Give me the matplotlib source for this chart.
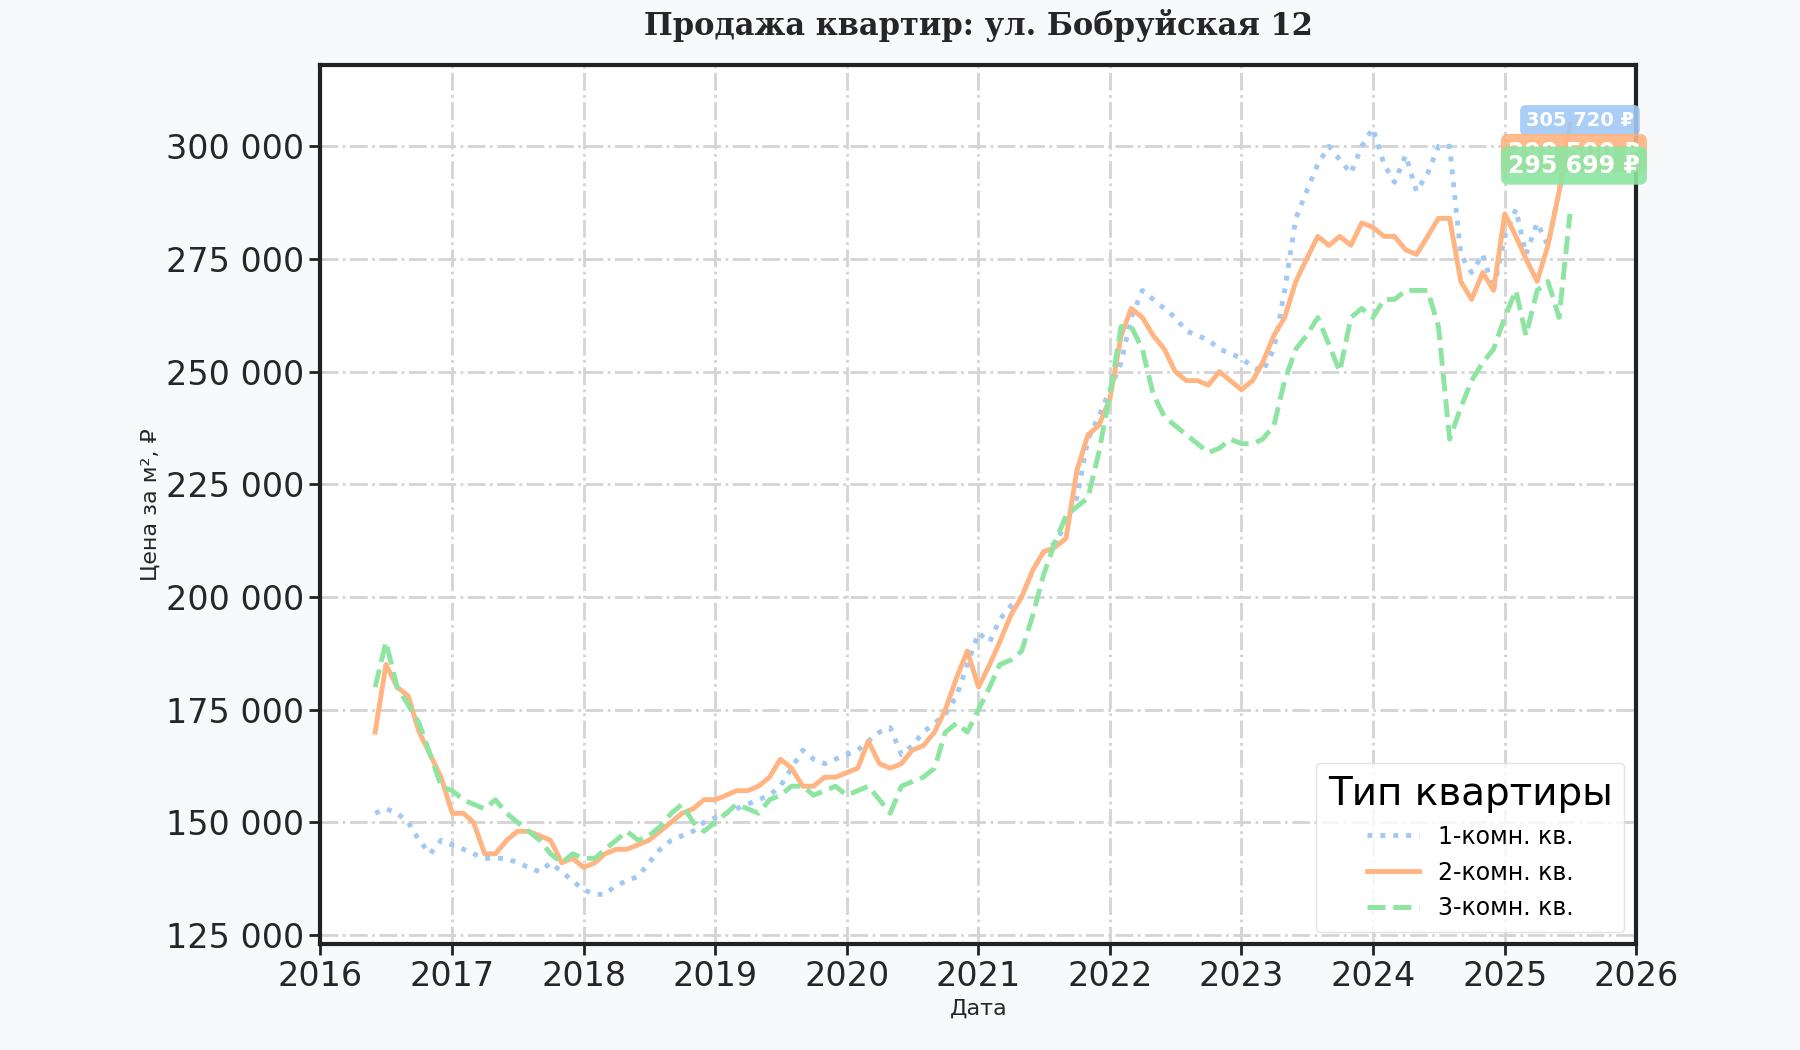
import matplotlib
matplotlib.use('Agg')
import matplotlib.pyplot as plt
import matplotlib.dates as mdates
import matplotlib.ticker as mticker
import pandas as pd

# Monthly values, thousands of rubles per m², Jun 2016 .. Jul 2025
one_room = [152, 153, 152, 150, 146, 143, 146,
            145, 144, 143, 142, 142, 142, 141, 140, 139, 141, 139, 137,
            135, 134, 134, 136, 137, 138, 141, 144, 146, 147, 148, 150,
            151, 152, 153, 154, 155, 156, 158, 162, 166, 164, 163, 164,
            165, 166, 168, 170, 171, 165, 167, 170, 172, 174, 178, 185,
            192, 190, 195, 198, 200, 206, 210, 212, 216, 222, 235, 240,
            246, 252, 262, 268, 266, 264, 262, 259, 258, 257, 255, 254,
            253, 251, 250, 255, 268, 284, 290, 296, 300, 297, 294, 300,
            304, 296, 292, 298, 290, 294, 300, 300, 276, 272, 276, 268,
            280, 286, 276, 283, 278, 290, 300]
two_room = [170, 185, 180, 178, 170, 165, 160,
            152, 152, 150, 143, 143, 146, 148, 148, 147, 146, 141, 142,
            140, 141, 143, 144, 144, 145, 146, 148, 150, 152, 153, 155,
            155, 156, 157, 157, 158, 160, 164, 162, 158, 158, 160, 160,
            161, 162, 168, 163, 162, 163, 166, 167, 170, 175, 182, 188,
            180, 185, 190, 196, 200, 206, 210, 211, 213, 228, 236, 238,
            244, 258, 264, 262, 258, 255, 250, 248, 248, 247, 250, 248,
            246, 248, 252, 258, 262, 270, 275, 280, 278, 280, 278, 283,
            282, 280, 280, 277, 276, 280, 284, 284, 270, 266, 272, 268,
            285, 280, 275, 270, 278, 290, 305]
three_room = [180, 190, 180, 176, 172, 165, 158,
              157, 155, 154, 153, 155, 152, 150, 148, 146, 143, 141, 143,
              142, 142, 144, 146, 148, 146, 147, 149, 152, 154, 150, 148,
              150, 152, 154, 153, 152, 155, 156, 158, 158, 156, 157, 158,
              156, 157, 158, 155, 152, 158, 159, 160, 162, 170, 172, 170,
              175, 180, 185, 186, 188, 196, 205, 212, 218, 220, 222, 232,
              245, 260, 260, 255, 245, 240, 238, 236, 234, 232, 233, 235,
              234, 234, 235, 238, 248, 255, 258, 262, 256, 250, 262, 264,
              262, 266, 266, 268, 268, 268, 260, 235, 242, 248, 252, 255,
              262, 268, 258, 268, 270, 262, 285]

series_names = ["1-комн. кв.", "2-комн. кв.", "3-комн. кв."]
end_labels = [305720, 298500, 295699]
end_texts = ["305 720 ₽", "298 500 ₽", "295 699 ₽"]

colors = ["#a1c9f4", "#ffb482", "#8de5a1"]
styles = [":", "-", "--"]

dates = pd.date_range("2016-06-01", periods=len(one_room), freq="MS")

fig = plt.figure(figsize=(18, 10.5), dpi=100, facecolor="#f8f9fb")
ax = fig.add_axes([0.178, 0.101, 0.731, 0.837])
ax.set_facecolor("white")

for vals, name, c, ls in zip([one_room, two_room, three_room], series_names, colors, styles):
    ax.plot(dates, [v * 1000 for v in vals], ls, color=c, lw=3.5, label=name, zorder=3)

# end-of-series labels; the orange one sits under the green one
label_x = [pd.Timestamp("2025-03-01"), pd.Timestamp("2025-01-10"), pd.Timestamp("2025-01-10")]
label_size = [14, 17, 17]
label_z = [5, 5, 6]
for lx, val, txt, c, fs, z in zip(label_x, end_labels, end_texts, colors, label_size, label_z):
    ax.text(lx, val, txt, color="white", fontsize=fs, fontweight="bold", va="center", ha="left",
            bbox=dict(boxstyle="round,pad=0.3", fc=c, ec="none", alpha=0.9), zorder=z, clip_on=False)

ax.set_xlim(pd.Timestamp("2016-01-01"), pd.Timestamp("2026-01-01"))
ax.set_ylim(123000, 318000)
ax.xaxis.set_major_locator(mdates.YearLocator())
ax.xaxis.set_major_formatter(mdates.DateFormatter("%Y"))
ax.yaxis.set_major_locator(mticker.MultipleLocator(25000))
ax.yaxis.set_major_formatter(mticker.FuncFormatter(lambda v, p: f"{int(v):,}".replace(",", " ")))
ax.tick_params(labelsize=24, length=8, width=2, color="#222222", labelcolor="#262626")
ax.grid(True, linestyle="-.", color="#d4d4d4", lw=2)
for s in ax.spines.values():
    s.set_linewidth(3)
    s.set_color("#222222")

ax.set_xlabel("Дата", fontsize=16, color="#262626")
ax.set_ylabel("Цена за м², ₽", fontsize=16, color="#262626")
ax.set_title("Продажа квартир: ул. Бобруйская 12", fontsize=22, fontweight="bold",
             family="DejaVu Serif", color="#262626", pad=22)

leg = ax.legend(title="Тип квартиры", loc="lower right", fontsize=17, title_fontsize=28,
                frameon=True, borderpad=0.5, handlelength=2.2)
leg.get_frame().set_edgecolor("#dddddd")

fig.savefig("out.png", facecolor=fig.get_facecolor())
